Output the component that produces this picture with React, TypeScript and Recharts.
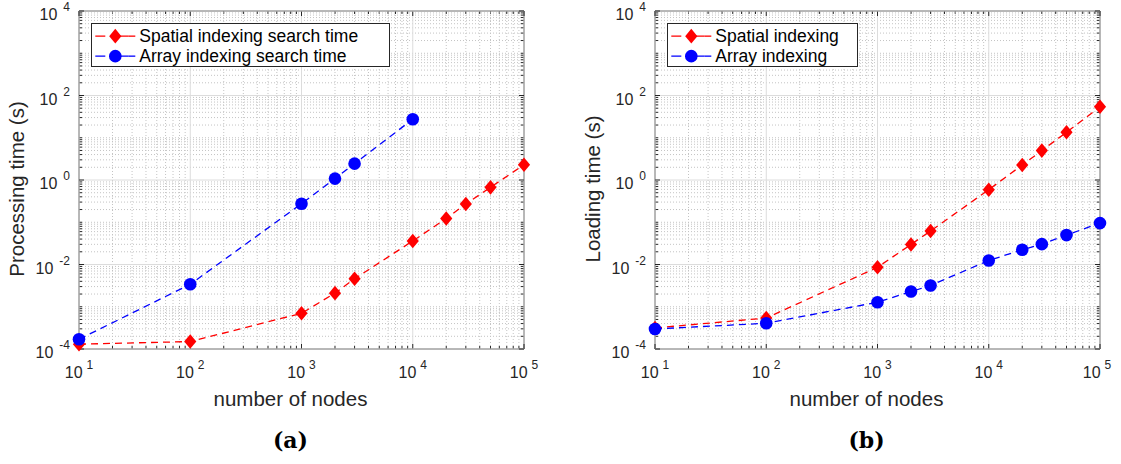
import React from "react";
import {
  LineChart,
  Line,
  XAxis,
  YAxis,
  ReferenceLine,
  ReferenceArea,
  Legend,
} from "recharts";

// number of nodes on the x axis
const nodes = [10, 100, 1000, 2000, 3000, 10000, 20000, 30000, 50000, 100000];
const arraySearchNodes = [10, 100, 1000, 2000, 3000, 10000];

// (a) processing time, seconds
const spatialSearchTime = [1.3e-4, 1.5e-4, 7.0e-4, 2.1e-3, 4.6e-3, 0.036, 0.123, 0.27, 0.67, 2.3];
const arraySearchTime = [1.7e-4, 3.4e-3, 0.275, 1.08, 2.44, 27.5];

// (b) loading time, seconds
const spatialLoadTime = [3.15e-4, 5.4e-4, 8.6e-3, 0.0298, 0.062, 0.59, 2.27, 4.96, 13.5, 54];
const arrayLoadTime = [2.98e-4, 4.06e-4, 1.28e-3, 2.29e-3, 3.18e-3, 0.01245, 0.0223, 0.0303, 0.0497, 0.0955];

const xTicks = [10, 100, 1000, 10000, 100000];
const yTicks = [1e-4, 1e-2, 1, 1e2, 1e4];
const xDecades = [10, 100, 1000, 10000];
const yDecades = [1e-4, 1e-3, 1e-2, 1e-1, 1, 10, 100, 1000];
const minorSteps = [2, 3, 4, 5, 6, 7, 8, 9];

const xMinor = xDecades.flatMap((d) => minorSteps.map((m) => m * d));
const yMinor = yDecades.flatMap((d) => [
  ...(yTicks.includes(d) ? [] : [d]),
  ...minorSteps.map((m) => m * d),
]);

const RED = "#ff0000";
const BLUE = "#0000ff";
const AXIS = "#262626";
const FONT = "'Liberation Sans', Arial, sans-serif";

const rows = (xs: number[], ys: number[]) => xs.map((x, i) => ({ x, y: ys[i] }));

const expOf = (v: number) => Math.round(Math.log10(v));

const Diamond = ({ cx, cy, color }: any) =>
  cx == null || cy == null ? null : (
    <path
      d={`M${cx},${cy - 7.3}L${cx + 6.1},${cy}L${cx},${cy + 7.3}L${cx - 6.1},${cy}Z`}
      fill={color}
    />
  );

const Circle = ({ cx, cy, color }: any) =>
  cx == null || cy == null ? null : <circle cx={cx} cy={cy} r={6.3} fill={color} />;

// grid line plus the inward tick marks at both ends of the box
const gridShape = (major: boolean) => (p: any) => {
  const { x1, y1, x2, y2 } = p;
  const len = major ? 5 : 3;
  const vertical = Math.abs(x1 - x2) < 0.5;
  const grid = (
    <line
      x1={x1}
      y1={y1}
      x2={x2}
      y2={y2}
      stroke={major ? "#dcdcdc" : "#c4c4c4"}
      strokeWidth={1}
      strokeDasharray={major ? undefined : "1 2"}
    />
  );
  if (vertical) {
    const top = Math.min(y1, y2);
    const bot = Math.max(y1, y2);
    return (
      <g>
        {grid}
        <line x1={x1} x2={x1} y1={top} y2={top + len} stroke={AXIS} />
        <line x1={x1} x2={x1} y1={bot} y2={bot - len} stroke={AXIS} />
      </g>
    );
  }
  const left = Math.min(x1, x2);
  const right = Math.max(x1, x2);
  return (
    <g>
      {grid}
      <line x1={left} x2={left + len} y1={y1} y2={y1} stroke={AXIS} />
      <line x1={right} x2={right - len} y1={y1} y2={y1} stroke={AXIS} />
    </g>
  );
};

const XTick = ({ x, y, payload }: any) => (
  <text x={x} y={y + 29} textAnchor="middle" fill={AXIS} fontSize={16} fontFamily={FONT}>
    10
    <tspan dx={4} dy={-9} fontSize={12}>
      {expOf(payload.value)}
    </tspan>
  </text>
);

const YTick = ({ x, y, payload }: any) => (
  <text x={x - 9} y={y + 9} textAnchor="end" fill={AXIS} fontSize={16} fontFamily={FONT}>
    10
    <tspan dx={6} dy={-9} fontSize={12}>
      {expOf(payload.value)}
    </tspan>
  </text>
);

interface Series {
  name: string;
  color: string;
  marker: "diamond" | "circle";
  data: { x: number; y: number }[];
}

const Marker = ({ s, cx, cy }: { s: Series; cx: number; cy: number }) =>
  s.marker === "diamond" ? <Diamond cx={cx} cy={cy} color={s.color} /> : <Circle cx={cx} cy={cy} color={s.color} />;

const LegendBox = ({ series, width }: { series: Series[]; width: number }) => (
  <div
    style={{
      width,
      height: 44.3,
      boxSizing: "border-box",
      border: `1px solid ${AXIS}`,
      background: "#fff",
      paddingTop: 1.5,
    }}
  >
    {series.map((s) => (
      <div key={s.name} style={{ display: "flex", alignItems: "center", height: 20.3 }}>
        <svg width={47.6} height={20.3} style={{ flex: "none" }}>
          <line x1={3.3} x2={43.3} y1={10.15} y2={10.15} stroke={s.color} strokeWidth={1.3} strokeDasharray="10 13" />
          <line x1={36.3} x2={43.3} y1={10.15} y2={10.15} stroke={s.color} strokeWidth={1.3} />
          <Marker s={s} cx={23.3} cy={10.15} />
        </svg>
        <span style={{ fontFamily: FONT, fontSize: 17.5, color: "#000", whiteSpace: "nowrap", lineHeight: "20.3px" }}>
          {s.name}
        </span>
      </div>
    ))}
  </div>
);

interface PanelProps {
  width: number;
  yAxisWidth: number;
  marginRight: number;
  yLabel: string;
  caption: string;
  legendWidth: number;
  series: Series[];
}

const Panel = ({ width, yAxisWidth, marginRight, yLabel, caption, legendWidth, series }: PanelProps) => {
  const labelX = yAxisWidth + 211.5;
  const yLabelX = yAxisWidth - 63;
  return (
    <LineChart
      width={width}
      height={464}
      margin={{ top: 11, right: marginRight, bottom: 85, left: 0 }}
      style={{ fontFamily: FONT }}
    >
      {xMinor.map((v) => (
        <ReferenceLine key={`xm${v}`} x={v} shape={gridShape(false)} />
      ))}
      {yMinor.map((v) => (
        <ReferenceLine key={`ym${v}`} y={v} shape={gridShape(false)} />
      ))}
      {xTicks.map((v) => (
        <ReferenceLine key={`xM${v}`} x={v} shape={gridShape(true)} />
      ))}
      {yTicks.map((v) => (
        <ReferenceLine key={`yM${v}`} y={v} shape={gridShape(true)} />
      ))}
      <ReferenceArea
        x1={10}
        x2={100000}
        y1={1e-4}
        y2={1e4}
        fill="none"
        stroke={AXIS}
        strokeWidth={1}
        ifOverflow="visible"
      />
      <XAxis
        dataKey="x"
        type="number"
        scale="log"
        domain={[10, 100000]}
        ticks={xTicks}
        axisLine={false}
        tickLine={false}
        tickSize={0}
        tickMargin={0}
        height={30}
        tick={<XTick />}
        label={{
          content: () => (
            <g>
              <text x={labelX} y={406} textAnchor="middle" fill={AXIS} fontSize={20.5} fontFamily={FONT}>
                number of nodes
              </text>
              <text
                x={labelX}
                y={447.5}
                textAnchor="middle"
                fill="#000"
                fontSize={22}
                fontWeight="bold"
                fontFamily="'DejaVu Serif', serif"
              >
                {caption}
              </text>
            </g>
          ),
        }}
      />
      <YAxis
        type="number"
        scale="log"
        domain={[1e-4, 1e4]}
        ticks={yTicks}
        axisLine={false}
        tickLine={false}
        tickSize={0}
        tickMargin={0}
        width={yAxisWidth}
        tick={<YTick />}
        label={{
          content: () => (
            <text
              x={yLabelX}
              y={189}
              transform={`rotate(-90 ${yLabelX} 189)`}
              textAnchor="middle"
              dominantBaseline="central"
              fill={AXIS}
              fontSize={20.5}
              fontFamily={FONT}
            >
              {yLabel}
            </text>
          ),
        }}
      />
      {series.map((s) => (
        <Line
          key={s.name}
          data={s.data}
          dataKey="y"
          name={s.name}
          type="linear"
          stroke={s.color}
          strokeWidth={1.3}
          strokeDasharray="7 5"
          dot={(p: any) => <Marker key={p.index} s={s} cx={p.cx} cy={p.cy} />}
          activeDot={false}
          isAnimationActive={false}
        />
      ))}
      <Legend
        layout="horizontal"
        verticalAlign="middle"
        align="center"
        wrapperStyle={{ left: yAxisWidth + 11.7, top: 23, width: "auto", height: "auto" }}
        content={() => <LegendBox series={series} width={legendWidth} />}
      />
    </LineChart>
  );
};

const searchSeries: Series[] = [
  { name: "Spatial indexing search time", color: RED, marker: "diamond", data: rows(nodes, spatialSearchTime) },
  { name: "Array indexing search time", color: BLUE, marker: "circle", data: rows(arraySearchNodes, arraySearchTime) },
];

const loadSeries: Series[] = [
  { name: "Spatial indexing", color: RED, marker: "diamond", data: rows(nodes, spatialLoadTime) },
  { name: "Array indexing", color: BLUE, marker: "circle", data: rows(nodes, arrayLoadTime) },
];

export default function App() {
  return (
    <div style={{ position: "absolute", left: 0, top: 0, width: 1121, height: 464, background: "#fff" }}>
      <div style={{ position: "absolute", left: 0, top: 0 }}>
        <Panel
          width={560}
          yAxisWidth={79}
          marginRight={36}
          yLabel="Processing time (s)"
          caption="(a)"
          legendWidth={299.6}
          series={searchSeries}
        />
      </div>
      <div style={{ position: "absolute", left: 560, top: 0 }}>
        <Panel
          width={561}
          yAxisWidth={95}
          marginRight={21}
          yLabel="Loading time (s)"
          caption="(b)"
          legendWidth={191}
          series={loadSeries}
        />
      </div>
    </div>
  );
}
